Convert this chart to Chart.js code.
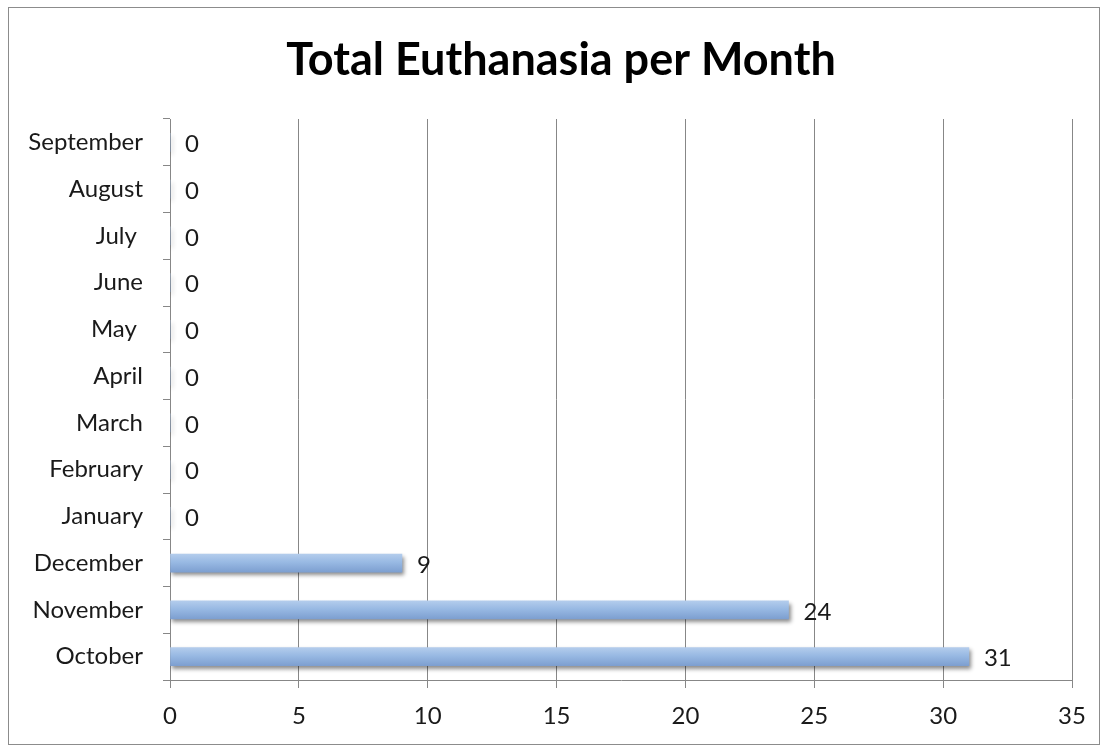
<!DOCTYPE html>
<html>
<head>
<meta charset="utf-8">
<script src="https://cdn.jsdelivr.net/npm/chart.js@4/dist/chart.umd.min.js"></script>
<style>
  html, body { margin: 0; padding: 0; background: #fff; }
  #wrap { width: 1107px; height: 747px; position: relative; }
</style>
</head>
<body>
<div id="wrap"><canvas id="chart"></canvas></div>
<script>
// months listed bottom to top, the y axis is reversed so October sits at the bottom
const months = ['October', 'November', 'December', 'January', 'February', 'March', 'April', 'May ', 'June', 'July ', 'August', 'September'];
const euthanasia = [31, 24, 9, 0, 0, 0, 0, 0, 0, 0, 0, 0];
const chartTitle = 'Total Euthanasia per Month';
const xMax = 35;
const xStep = 5;

const fontFamily = "Lato, 'Open Sans', 'Liberation Sans', sans-serif";
const lineGray = '#878787';
const barSize = 18;

const frame = {
    id: 'frame',
    beforeDraw: (chart) => {
        const ctx = chart.ctx;
        ctx.save();
        ctx.fillStyle = '#fff';
        ctx.fillRect(0, 0, chart.width, chart.height);
        ctx.strokeStyle = '#8c8c8c';
        ctx.lineWidth = 1;
        ctx.strokeRect(8.5, 7.5, 1091, 737);
        ctx.font = `bold 45px ${fontFamily}`;
        ctx.fillStyle = '#000';
        ctx.textAlign = 'center';
        ctx.textBaseline = 'middle';
        ctx.fillText(chartTitle, 561, 60);
        ctx.restore();
    }
};

const barShadow = {
    id: 'barShadow',
    beforeDatasetsDraw: (chart) => {
        const ctx = chart.ctx;
        ctx.save();
        ctx.shadowColor = 'rgba(0, 0, 0, 0.45)';
        ctx.shadowBlur = 4;
        ctx.shadowOffsetX = 2;
        ctx.shadowOffsetY = 3;
    },
    afterDatasetsDraw: (chart) => {
        chart.ctx.restore();
    }
};

const valueLabels = {
    id: 'valueLabels',
    afterDatasetsDraw: (chart) => {
        const ctx = chart.ctx;
        ctx.save();
        ctx.font = `24px ${fontFamily}`;
        ctx.fillStyle = '#1a1a1a';
        ctx.textAlign = 'left';
        ctx.textBaseline = 'middle';
        chart.getDatasetMeta(0).data.forEach((bar, i) => {
            ctx.fillText(String(euthanasia[i]), bar.x + 15, bar.y + 2);
        });
        ctx.restore();
    }
};

const barFill = (c) => {
    const yScale = c.chart.scales.y;
    if (!yScale || !c.chart.chartArea) return '#93b6e2';
    const mid = yScale.getPixelForValue(c.dataIndex);
    const g = c.chart.ctx.createLinearGradient(0, mid - barSize / 2, 0, mid + barSize / 2);
    g.addColorStop(0, '#b3ccec');
    g.addColorStop(0.45, '#98b9e3');
    g.addColorStop(1, '#7d9fd0');
    return g;
};

new Chart(document.getElementById('chart'), {
    type: 'bar',
    data: {
        labels: months,
        datasets: [{
            data: euthanasia,
            backgroundColor: barFill,
            borderWidth: 0,
            barThickness: barSize
        }]
    },
    options: {
        indexAxis: 'y',
        responsive: true,
        maintainAspectRatio: false,
        animation: false,
        layout: { padding: { left: 0, right: 35, top: 119, bottom: 0 } },
        plugins: {
            legend: { display: false },
            tooltip: { enabled: false },
            title: { display: false }
        },
        scales: {
            x: {
                min: 0,
                max: xMax,
                ticks: {
                    stepSize: xStep,
                    color: '#1a1a1a',
                    font: { family: fontFamily, size: 24 },
                    padding: 14
                },
                grid: {
                    color: lineGray,
                    lineWidth: 1,
                    tickLength: 8,
                    drawOnChartArea: true
                },
                border: { color: lineGray },
                afterFit: (s) => { s.height = 67; }
            },
            y: {
                reverse: true,
                ticks: {
                    color: '#1a1a1a',
                    font: { family: fontFamily, size: 24 },
                    padding: 20
                },
                grid: {
                    offset: true,
                    color: lineGray,
                    drawOnChartArea: false,
                    tickLength: 7
                },
                border: { color: lineGray },
                afterFit: (s) => { s.width = 170; }
            }
        }
    },
    plugins: [frame, barShadow, valueLabels]
});
</script>
</body>
</html>
